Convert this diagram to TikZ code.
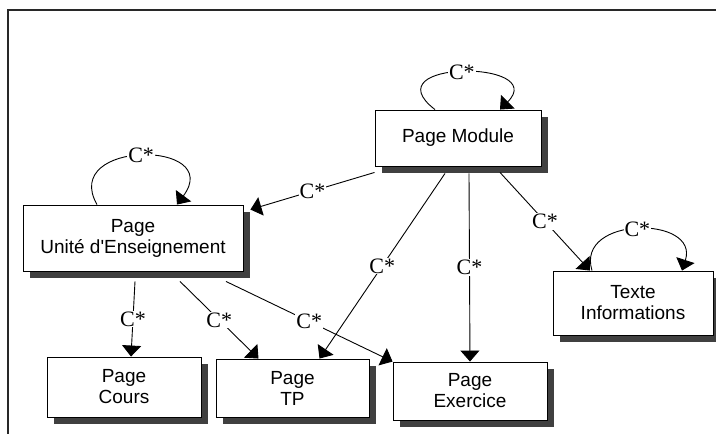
\documentclass[tikz,border=0pt]{standalone}
\usepackage{fontspec}
\setmainfont{Liberation Serif}
\setsansfont{Liberation Sans}
\usepackage{tikz}
\usetikzlibrary{positioning,shapes,arrows.meta,shadows}
\definecolor{shadowgray}{RGB}{64,64,64}
\definecolor{framegray}{RGB}{40,40,40}

\begin{document}
\begin{tikzpicture}[x=1pt, y=-1pt]
    % Define styles
    \tikzstyle{page} = [rectangle, draw=black, line width=0.9pt, fill=white, align=center, inner sep=2pt,
        font=\sffamily\fontsize{19}{21}\selectfont,
        drop shadow={shadow xshift=7pt, shadow yshift=-7pt, opacity=1, fill=shadowgray}]
    \tikzstyle{link} = [draw=black, line width=0.9pt, -{Triangle[length=11pt, width=19pt]}]
    \tikzstyle{card} = [fill=white, inner sep=1pt, font=\fontsize{22}{22}\selectfont]

    \useasboundingbox (0,0) rectangle (716,434);
    % Frame
    \draw [framegray, line width=1.6pt] (716,10) -- (8,10) -- (8,434);

    % Pages
    \node [page, minimum width=166pt, minimum height=56pt] (module) at (458,138) {Page Module};
    \node [page, minimum width=220pt, minimum height=66pt] (ue) at (133,238) {Page\\Unit\'e d\textquotesingle Enseignement};
    \node [page, minimum width=154pt, minimum height=60pt] (cours) at (124,387) {Page\\Cours};
    \node [page, minimum width=153pt, minimum height=58pt] (tp) at (292.5,388) {Page\\TP};
    \node [page, minimum width=154pt, minimum height=58pt] (exercice) at (470,391) {Page\\Exercice};
    \node [page, minimum width=160pt, minimum height=64pt] (texte) at (633,303) {Texte\\Informations};

    % Self loops
    \draw [link] ([xshift=-23pt]module.north) .. controls +(-65,-50) and +(50,-50) .. node [card] {C*} ([xshift=42pt]module.north);
    \draw [link] ([xshift=-36pt]ue.north) .. controls +(-37,-65) and +(48,-65) .. node [card] {C*} ([xshift=44pt]ue.north);
    \draw [link] ([xshift=-41pt]texte.north) .. controls +(-17,-55) and +(18,-55) .. node [card] {C*} ([xshift=49pt]texte.north);

    % Links from Page Module
    \draw [link] ([yshift=-6pt]module.south west) -- node [card] {C*} ([xshift=7pt, yshift=-5pt]ue.north east);
    \draw [link] ([xshift=-13pt, yshift=-7pt]module.south) -- node [card] {C*} ([xshift=27pt]tp.north);
    \draw [link] ([xshift=11pt, yshift=-7pt]module.south) -- node [card] {C*} (exercice.north);
    \draw [link] ([xshift=42pt, yshift=-6pt]module.south) -- node [card] {C*} ([xshift=-43pt]texte.north);

    % Links from Page UE
    \draw [link] ([xshift=2pt, yshift=-10pt]ue.south) -- node [card] {C*} ([xshift=7pt]cours.north);
    \draw [link] ([xshift=47pt, yshift=-10pt]ue.south) -- node [card] {C*} ([xshift=-34pt]tp.north);
    \draw [link] ([xshift=93pt, yshift=-10pt]ue.south) -- node [card] {C*} (exercice.north west);
\end{tikzpicture}
\end{document}
